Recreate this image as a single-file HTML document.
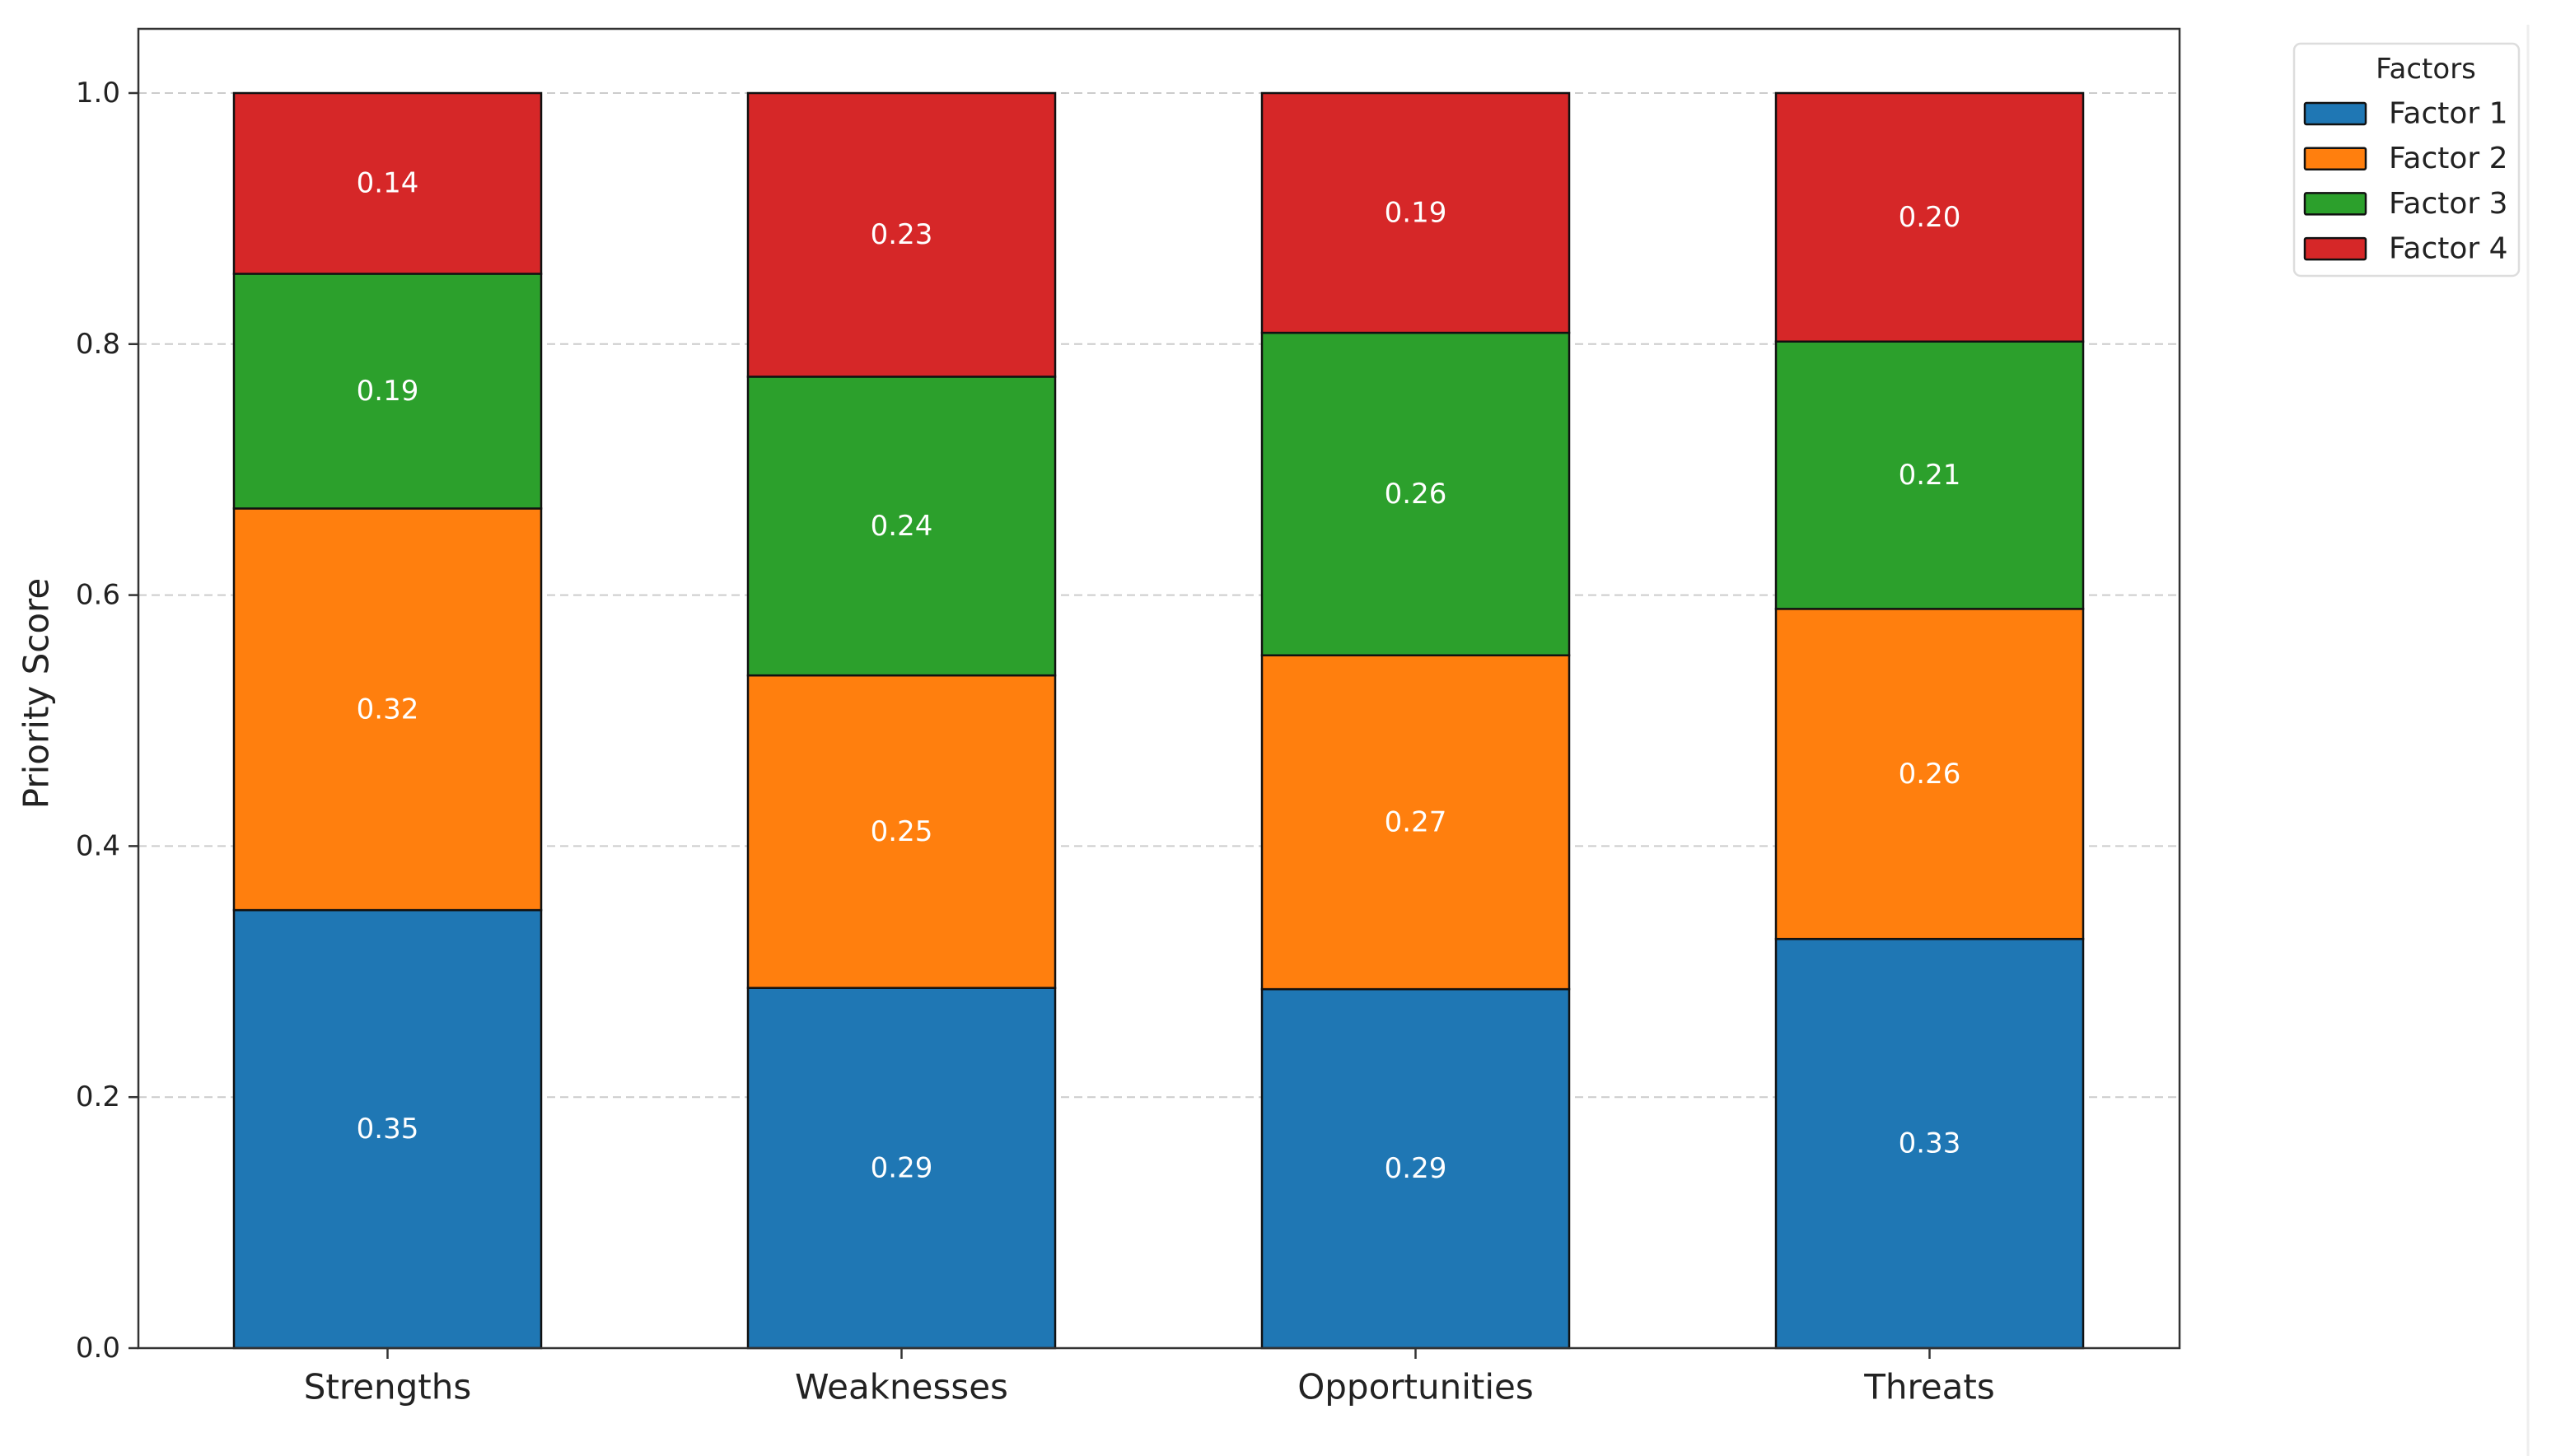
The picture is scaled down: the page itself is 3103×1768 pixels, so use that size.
<!DOCTYPE html>
<html><head><meta charset="utf-8"><style>
html,body{margin:0;padding:0;background:#fff;}
svg{display:block;font-family:"DejaVu Sans","Liberation Sans",sans-serif;}
</style></head><body>
<svg id="chart" width="3103" height="1768" viewBox="0 0 3103 1768" xmlns="http://www.w3.org/2000/svg">
<rect x="0" y="0" width="3103" height="1768" fill="#fff"/>
<line x1="3069" y1="30" x2="3069" y2="1768" stroke="#eee" stroke-width="3"/>
<g id="grid"></g>
<g id="bars"></g>
<rect x="168" y="35" width="2478" height="1602" fill="none" stroke="#333" stroke-width="2.5"/>
<g id="yaxis"></g>
<g id="xaxis"></g>
<text x="44" y="842" font-size="42" fill="#222" text-anchor="middle" dominant-baseline="central" transform="rotate(-90 44 842)">Priority Score</text>
<g>
<rect x="2785" y="53" width="273" height="282" rx="8" fill="#fff" stroke="#ddd" stroke-width="2.5"/>
<text x="2945" y="84" font-size="34" fill="#222" text-anchor="middle" dominant-baseline="central">Factors</text>
<g id="legend-entries"></g>
</g>
</svg>
<script>
const categories = ["Strengths", "Weaknesses", "Opportunities", "Threats"];
const seriesNames = ["Factor 1", "Factor 2", "Factor 3", "Factor 4"];
const factor1 = [0.349, 0.287, 0.286, 0.326];
const factor2 = [0.320, 0.249, 0.266, 0.263];
const factor3 = [0.187, 0.238, 0.257, 0.213];
const factor4 = [0.144, 0.226, 0.191, 0.198];
const yTicks = [0.0, 0.2, 0.4, 0.6, 0.8, 1.0];
const colors = ["#1f77b4", "#ff7f0e", "#2ca02c", "#d62728"];

const NS = "http://www.w3.org/2000/svg";
const series = [factor1, factor2, factor3, factor4];
const Y0 = 1637, Y1 = 113;
function yScale(v){ return Y0 - (Y0 - Y1) * v; }
function xScale(i){ return 470.5 + 624 * i; }
const barW = 373;
function mk(tag, attrs, parent){
  const e = document.createElementNS(NS, tag);
  for (const k in attrs) e.setAttribute(k, attrs[k]);
  parent.appendChild(e);
  return e;
}
const grid = document.getElementById("grid");
const yaxis = document.getElementById("yaxis");
yTicks.forEach(t => {
  const y = yScale(t);
  const gl = mk("line", {x1:168, x2:2646, y1:y, y2:y, stroke:"#ccc", "stroke-width":2, "stroke-dasharray":"10 6"}, grid);
  
  
  const tk = mk("line", {x1:156, x2:168, y1:y, y2:y, stroke:"#333", "stroke-width":2.5}, yaxis);
  
  
  const tl = mk("text", {x:146, y:y, "font-size":34, fill:"#222", "text-anchor":"end", "dominant-baseline":"central"}, yaxis);
  tl.textContent = t.toFixed(1);
  
  
});
const bars = document.getElementById("bars");
const xaxis = document.getElementById("xaxis");
categories.forEach((c, i) => {
  let base = 0;
  const cx = xScale(i);
  series.forEach((s, k) => {
    const v = s[i];
    const yt = yScale(base + v), yb = yScale(base);
    const r = mk("rect", {x:cx - barW/2, y:yt, width:barW, height:yb - yt, fill:colors[k], stroke:"#111", "stroke-width":2.5}, bars);
    
    
    const t = mk("text", {x:cx, y:(yt + yb)/2, "font-size":34, fill:"#fff", "text-anchor":"middle", "dominant-baseline":"central"}, bars);
    t.textContent = v.toFixed(2);
    
    
    base += v;
  });
  const tk = mk("line", {x1:cx, x2:cx, y1:1637, y2:1650, stroke:"#333", "stroke-width":2.5}, xaxis);
  
  
  const tl = mk("text", {x:cx, y:1684, "font-size":42, fill:"#222", "text-anchor":"middle", "dominant-baseline":"central"}, xaxis);
  tl.textContent = c;
  
  
});
const le = document.getElementById("legend-entries");
seriesNames.forEach((n, k) => {
  const y = 138 + 54.7 * k;
  const sw = mk("rect", {x:2798, y:y - 13, width:74, height:26, fill:colors[k], stroke:"#111", "stroke-width":2.5, rx:2}, le);
  
  
  const t = mk("text", {x:2900, y:y, "font-size":36, fill:"#222", "dominant-baseline":"central"}, le);
  t.textContent = n;
  
  
});
</script>
</body></html>
